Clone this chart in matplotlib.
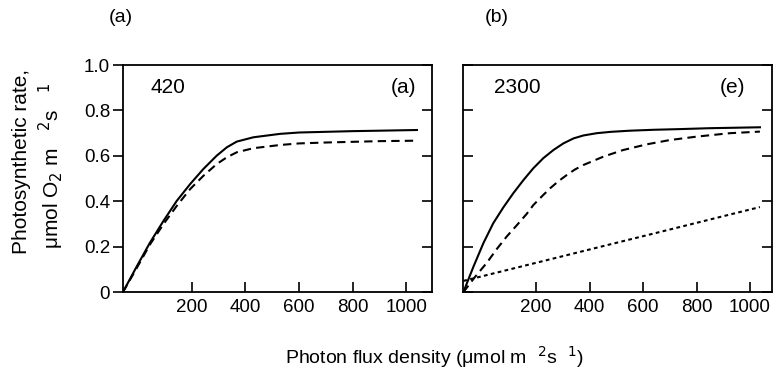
import matplotlib
matplotlib.use("Agg")
import matplotlib.pyplot as plt
import matplotlib.lines as mlines

plt.rcParams['font.family'] = ['Liberation Sans', 'DejaVu Sans']

# Panel (a): 420
a_x_solid = [-57, -5, 44, 94, 144, 194, 243, 293, 331, 368, 430, 529, 600, 700, 800, 900, 1040]
a_y_solid = [0, 0.114, 0.218, 0.313, 0.402, 0.476, 0.542, 0.601, 0.638, 0.663, 0.682, 0.697, 0.703, 0.706, 0.709, 0.711, 0.714]
a_x_dash = [-57, -5, 44, 94, 144, 194, 243, 293, 331, 368, 430, 529, 600, 700, 800, 900, 1040]
a_y_dash = [0, 0.107, 0.21, 0.299, 0.38, 0.454, 0.512, 0.564, 0.594, 0.616, 0.634, 0.648, 0.655, 0.659, 0.662, 0.665, 0.667]

# Panel (e): 2300
b_x_solid = [-72, -34, 3, 40, 78, 115, 153, 190, 227, 265, 302, 340, 377, 427, 480, 551, 640, 738, 850, 1037]
b_y_solid = [0, 0.113, 0.216, 0.304, 0.374, 0.436, 0.494, 0.546, 0.590, 0.626, 0.655, 0.677, 0.690, 0.700, 0.706, 0.711, 0.715, 0.718, 0.722, 0.726]
b_x_dash = [-72, -30, 16, 53, 90, 128, 165, 190, 220, 252, 285, 315, 345, 377, 452, 526, 614, 701, 801, 925, 1037]
b_y_dash = [0, 0.065, 0.13, 0.19, 0.245, 0.295, 0.345, 0.384, 0.42, 0.457, 0.49, 0.516, 0.54, 0.56, 0.597, 0.626, 0.651, 0.670, 0.685, 0.700, 0.707]
b_x_dot = [-72, 1037]
b_y_dot = [0.05, 0.375]

x_ticks = [200, 400, 600, 800, 1000]
y_ticks = [0, 0.2, 0.4, 0.6, 0.8, 1.0]
y_ticklabels = ['0', '0.2', '0.4', '0.6', '0.8', '1.0']

W, H = 777, 371
fig = plt.figure(figsize=(W / 100, H / 100), dpi=100)

def px_axes(x0, x1, y0, y1):
    return fig.add_axes([x0 / W, 1 - y1 / H, (x1 - x0) / W, (y1 - y0) / H])

ax1 = px_axes(122.7, 431.7, 65, 292.3)
ax2 = px_axes(463.3, 771.7, 65, 292.3)

lw = 1.5
ax1.plot(a_x_solid, a_y_solid, color='black', lw=lw)
ax1.plot(a_x_dash, a_y_dash, color='black', lw=lw, linestyle=(0, (4, 2.5)))
ax2.plot(b_x_solid, b_y_solid, color='black', lw=lw)
ax2.plot(b_x_dash, b_y_dash, color='black', lw=lw, linestyle=(0, (4, 2.5)))
ax2.plot(b_x_dot, b_y_dot, color='black', lw=lw, linestyle=(0, (1.8, 1.6)))

ax1.set_xlim(-57.5, 1095)
ax2.set_xlim(-72, 1081)
for ax in (ax1, ax2):
    ax.set_ylim(0, 1.0)
    ax.set_xticks(x_ticks)
    ax.set_xticklabels([str(t) for t in x_ticks], fontsize=13.5)
    ax.set_yticks(y_ticks)
    for s in ax.spines.values():
        s.set_linewidth(1.3)
    ax.tick_params(axis='x', direction='in', length=7, width=1.2, pad=5)
    ax.tick_params(axis='y', direction='in', length=7, width=1.2, right=True)

ax1.set_yticklabels(y_ticklabels, fontsize=13.5)
ax1.tick_params(axis='y', direction='out', length=7, pad=2)
for t in ax1.yaxis.get_major_ticks():
    t.tick2line.set_marker(mlines.TICKLEFT)
ax2.set_yticklabels([])

ax1.text(0.09, 0.9, '420', transform=ax1.transAxes, fontsize=15, va='center', ha='left')
ax1.text(0.95, 0.9, '(a)', transform=ax1.transAxes, fontsize=15, va='center', ha='right')
ax2.text(0.10, 0.9, '2300', transform=ax2.transAxes, fontsize=15, va='center', ha='left')
ax2.text(0.915, 0.9, '(e)', transform=ax2.transAxes, fontsize=15, va='center', ha='right')

fig.text(121 / W, 1 - 18 / H, '(a)', fontsize=14, ha='center', va='center')
fig.text(497 / W, 1 - 18 / H, '(b)', fontsize=14, ha='center', va='center')

fig.text(22 / W, 1 - 161 / H, 'Photosynthetic rate,', rotation=90, fontsize=15, ha='center', va='center')
fig.text(51 / W, 1 - 166 / H, 'μmol O$_2$ m   $^2$s   $^1$', rotation=90, fontsize=15, ha='center', va='center')

fig.text(434 / W, 1 - 357 / H, 'Photon flux density (μmol m  $^2$s  $^1$)', fontsize=14, ha='center', va='center')

fig.savefig('out.png', dpi=100)
